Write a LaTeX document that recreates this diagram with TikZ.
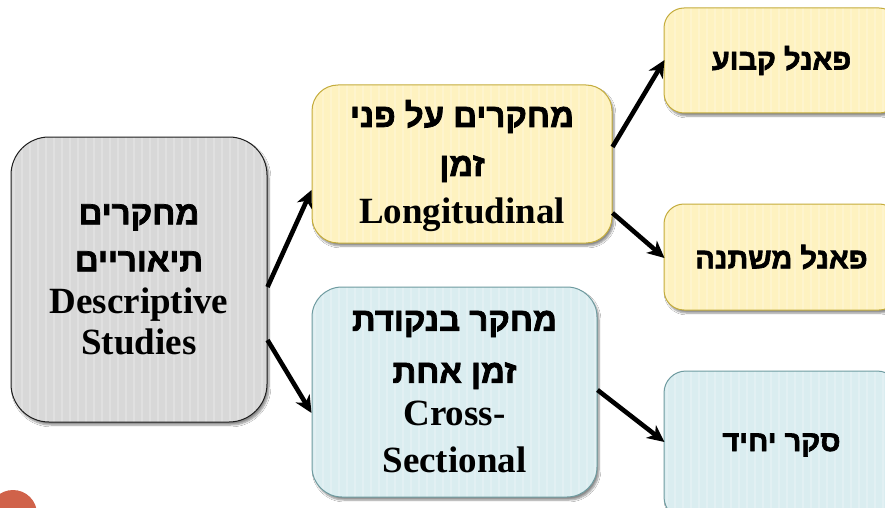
\documentclass[tikz,border=0pt]{standalone}
\usepackage{fontspec}
\setmainfont{Liberation Serif}
\newfontfamily\hebfont[Script=Hebrew,BoldFeatures={FakeBold=2.2}]{Liberation Sans}
\TeXXeTstate=1
\usetikzlibrary{arrows.meta,shadows.blur,calc}
\definecolor{grayfill}{RGB}{216,216,216}
\definecolor{grayline}{RGB}{30,30,30}
\definecolor{yelfill}{RGB}{254,242,192}
\definecolor{yelline}{RGB}{196,172,60}
\definecolor{bluefill}{RGB}{218,237,240}
\definecolor{blueline}{RGB}{110,155,160}
\definecolor{dotred}{RGB}{208,98,74}
\tikzset{
  stripes/.style={path picture={
    \foreach \k in {0,...,38} {
      \draw[white, opacity=0.22, line width=2.5pt]
        ($(path picture bounding box.south west)+(\k*8pt+3pt,0)$) -- ++(0,320pt);
    }}},
  boxbase/.style={rectangle, line width=1pt, align=center, inner sep=0pt, stripes,
    blur shadow={shadow xshift=2pt, shadow yshift=-3pt, shadow blur steps=6, shadow opacity=45}},
  graybox/.style={boxbase, draw=grayline, fill=grayfill, rounded corners=38pt,
    minimum width=256pt, minimum height=285pt},
  yelbox/.style={boxbase, draw=yelline, fill=yelfill},
  bluebox/.style={boxbase, draw=blueline, fill=bluefill},
  bigtxt/.style={font=\bfseries\fontsize{33}{46}\selectfont},
  smalltxt/.style={font=\hebfont\bfseries\fontsize{29}{34}\selectfont},
  conn/.style={line width=4.6pt, -{Stealth[length=17pt,width=16pt,inset=5pt]}}
}
\newcommand{\heb}[1]{{\hebfont\beginR #1\endR}}
\newcommand{\eng}[1]{{\fontsize{37}{46}\selectfont #1}}
\begin{document}
\begin{tikzpicture}[x=1pt,y=-1pt]
\useasboundingbox (0,0) rectangle (885,508);
\fill[white] (0,0) rectangle (885,508);

\node[graybox, bigtxt] (gray) at (139,279.5)
  {\heb{מחקרים}\\[1pt] \heb{תיאוריים}\\[-4pt] \eng{Descriptive}\\[-5pt] \eng{Studies}};

\node[yelbox, bigtxt, rounded corners=26pt, minimum width=300pt, minimum height=158pt] (lon) at (462,164)
  {\heb{מחקרים על פני}\\[3pt] \heb{זמן}\\[2pt] \eng{Longitudinal}\\[-42pt] \mbox{}};

\node[bluebox, bigtxt, rounded corners=30pt, minimum width=285pt, minimum height=210pt] (cross) at (454.5,392)
  {\heb{מחקר בנקודת}\\[6pt] \heb{זמן אחת}\\[-3pt] \eng{Cross-}\\[1pt] \eng{Sectional}};

\node[yelbox, smalltxt, rounded corners=20pt, minimum width=235pt, minimum height=105pt] (fixed) at (781.5,60.5)
  {\heb{פאנל קבוע}};
\node[yelbox, smalltxt, rounded corners=20pt, minimum width=235pt, minimum height=106pt] (var) at (781.5,257)
  {\heb{פאנל משתנה}};
\node[bluebox, smalltxt, rounded corners=22pt, minimum width=235pt, minimum height=148pt] (single) at (781.5,445)
  {\heb{סקר יחיד}};

\fill[dotred] (13,514) circle (24);

\draw[conn] ([yshift=-7.5pt]gray.east) -- ([yshift=-26pt]lon.west);
\draw[conn] ([yshift=-60.5pt]gray.east) -- ([yshift=-21pt]cross.west);
\draw[conn] ([yshift=17pt]lon.east) -- ([xshift=1pt,yshift=0.5pt]fixed.west);
\draw[conn] ([yshift=-49pt]lon.east) -- ([xshift=1pt,yshift=-1pt]var.west);
\draw[conn] ([yshift=2pt]cross.east) -- ([xshift=1pt,yshift=3pt]single.west);
\end{tikzpicture}
\end{document}
